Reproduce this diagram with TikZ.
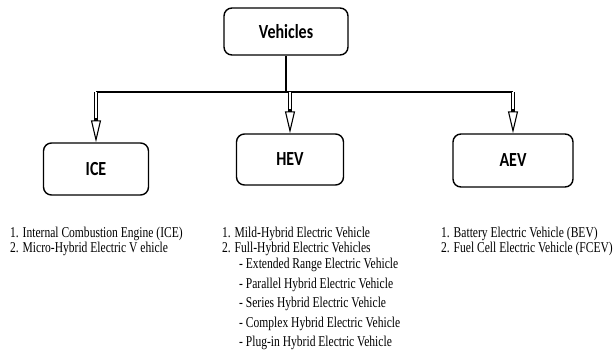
\documentclass[tikz,border=0pt]{standalone}
\usepackage{fontspec}
\setmainfont{Liberation Serif}
\newfontfamily\listfont[FakeStretch=0.77]{Liberation Serif}
\newfontfamily\boxfont[FakeStretch=0.8]{Carlito}
\usepackage{tikz}
\usetikzlibrary{positioning, arrows.meta, calc}

\begin{document}
\begin{tikzpicture}[
  x=1pt, y=-1pt,
  box/.style={rectangle, rounded corners=8pt, draw=black, line width=1.4pt,
              fill=white, font=\boxfont\bfseries\fontsize{20}{22}\selectfont},
  list/.style={anchor=north west, inner sep=0pt, align=left,
               font=\listfont\fontsize{15}{14.5}\selectfont},
  bar/.style={line width=1.5pt, black},
  shaft/.style={double=white, double distance=2.6pt, line width=1.1pt, black},
  head/.style={-{Triangle[open, length=22pt, width=10pt, line width=1.1pt]}, line width=1.1pt, black}
]
\useasboundingbox (0,0) rectangle (615,354);

% Top
\node[box, minimum width=124pt, minimum height=47pt] (veh) at (286,31.5) {Vehicles};

% Row of classes
\node[box, minimum width=105pt, minimum height=52pt] (ice) at (96,169) {ICE};
\node[box, minimum width=107pt, minimum height=51pt] (hev) at (290,159.5) {HEV};
\node[box, minimum width=120pt, minimum height=53pt] (aev) at (513,160.5) {AEV};

% Lists
\node[list] (icel) at (10,227) {1. Internal Combustion Engine (ICE)\\
  2. Micro-Hybrid Electric V ehicle};
\node[list] (hevl) at (222,227) {1. Mild-Hybrid Electric Vehicle\\
  2. Full-Hybrid Electric Vehicles\\[2pt]
  \hspace*{17pt}- Extended Range Electric Vehicle\\[5pt]
  \hspace*{17pt}- Parallel Hybrid Electric Vehicle\\[5pt]
  \hspace*{17pt}- Series Hybrid Electric Vehicle\\[5pt]
  \hspace*{17pt}- Complex Hybrid Electric Vehicle\\[5pt]
  \hspace*{17pt}- Plug-in Hybrid Electric Vehicle};
\node[list] (aevl) at (441,227) {1. Battery Electric Vehicle (BEV)\\
  2. Fuel Cell Electric Vehicle (FCEV)};

% Bus line
\coordinate (bus) at (286,92);
\draw[bar] (veh.south) -- (veh.south |- bus);
\draw[bar] (ice.north |- bus) -- (aev.north |- bus);

% Arrows
\foreach \k in {ice,hev,aev} {
  \draw[shaft] (\k.north |- bus) -- ([yshift=21pt]\k.north);
  \draw[head] ([yshift=24pt]\k.north) -- (\k.north);
}

\end{tikzpicture}
\end{document}
